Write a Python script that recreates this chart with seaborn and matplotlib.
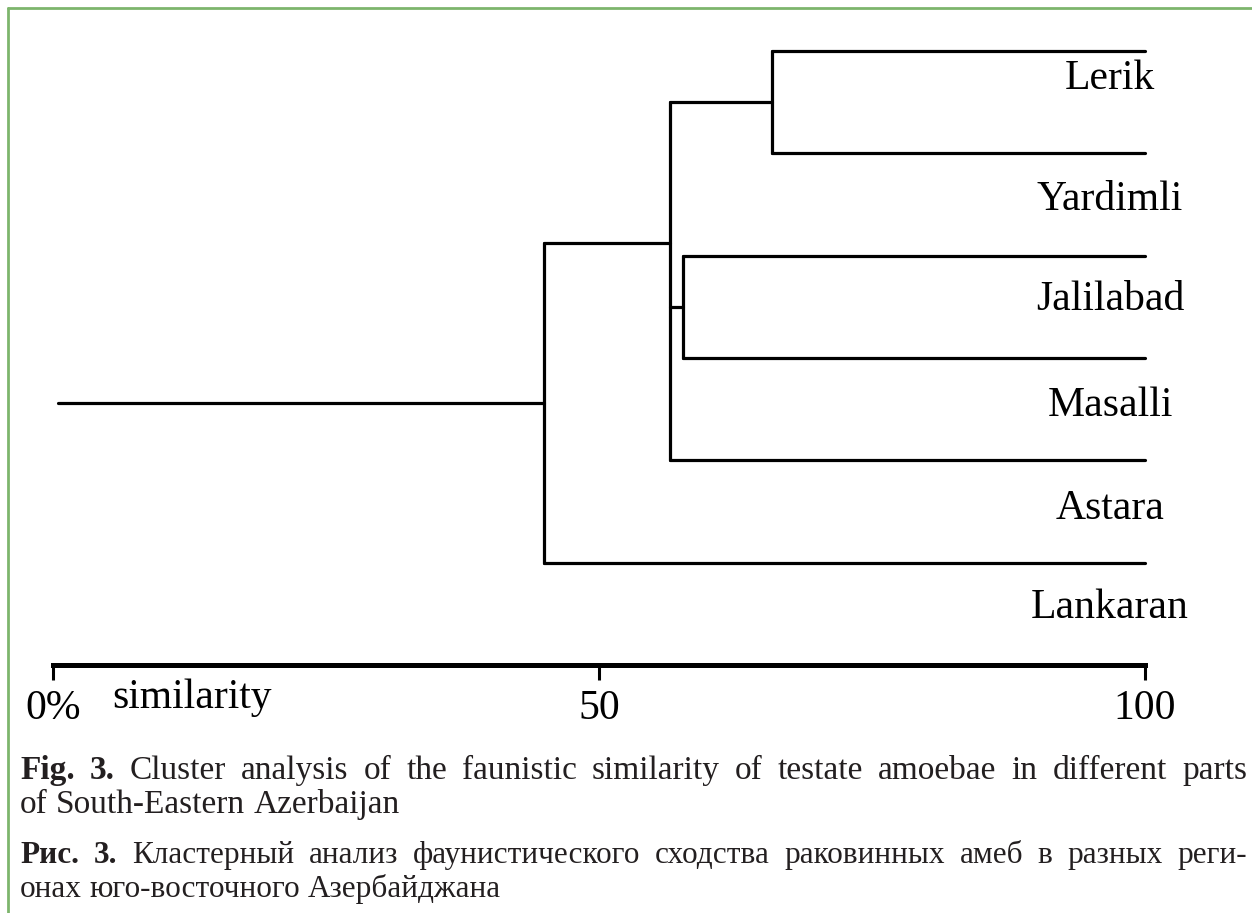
import numpy as np
import pandas as pd
import matplotlib
matplotlib.use("Agg")
import matplotlib.pyplot as plt
from matplotlib.lines import Line2D
import seaborn as sns

# leaves from top to bottom
leaves = ["Lerik", "Yardimli", "Jalilabad", "Masalli", "Astara", "Lankaran"]

# merges, similarity in %
node_names = ["A", "B", "C", "D"]
node_children = [["Lerik", "Yardimli"], ["Jalilabad", "Masalli"],
                 ["A", "B", "Astara"], ["C", "Lankaran"]]
node_similarity = [65.8, 57.7, 56.5, 45.0]
# the 3-way node is joined above its middle in the original figure
node_attach = {"C": 1.875}
root_start = 0.5
leaf_end = 100

tick_values = [0, 50, 100]
tick_labels = ["0%", "50", "100"]

caption_lines = [
    ([("Fig.", True), ("3.", True)] + [(w, False) for w in
     "Cluster analysis of the faunistic similarity of testate amoebae in different parts".split()], True),
    ([(w, False) for w in "of South-Eastern Azerbaijan".split()], False),
    ([("Рис.", True), ("3.", True)] + [(w, False) for w in
     "Кластерный анализ фаунистического сходства раковинных амеб в разных реги-".split()], True),
    ([(w, False) for w in "онах юго-восточного Азербайджана".split()], False),
]

# ---- build dendrogram segments
pos = {name: float(i) for i, name in enumerate(leaves)}
sim = {name: leaf_end for name in leaves}
rows = []
seg_id = [0]


def add_seg(xs, ys):
    for x, y in zip(xs, ys):
        rows.append({"seg": seg_id[0], "similarity": x, "row": y})
    seg_id[0] += 1


for name, kids, s in zip(node_names, node_children, node_similarity):
    ys = [pos[k] for k in kids]
    for k in kids:
        add_seg([sim[k], s], [pos[k], pos[k]])
    add_seg([s, s], [min(ys), max(ys)])
    pos[name] = node_attach.get(name, float(np.mean(ys)))
    sim[name] = s
add_seg([node_similarity[-1], root_start], [pos["D"], pos["D"]])

seg_df = pd.DataFrame(rows)

# ---- figure
W, H = 1252, 913
sns.set_theme(style="white")
plt.rcParams["font.family"] = ["Liberation Serif", "DejaVu Serif"]

fig = plt.figure(figsize=(W / 100, H / 100), dpi=100)
ax = fig.add_axes([53 / W, 1 - 665 / H, 1092 / W, 665 / H])

sns.lineplot(data=seg_df, x="similarity", y="row", units="seg", estimator=None,
             sort=False, color="black", lw=2.3, solid_capstyle="round",
             ax=ax, clip_on=False)

ax.set_xlim(0, 100)
ax.set_ylim(6, -0.5)
ax.set_xlabel("")
ax.set_ylabel("")
ax.set_yticks([])
ax.set_xticks(tick_values, tick_labels)
sns.despine(ax=ax, left=True, top=True, right=True)
ax.spines["bottom"].set_linewidth(3.6)
ax.spines["bottom"].set_color("black")
ax.tick_params(axis="x", direction="out", length=10.5, width=2.2, pad=7,
               labelsize=30, colors="black", bottom=True)
ax.patch.set_alpha(0)

ax.text(5.4, 6.42, "similarity", fontsize=30, color="black",
        va="baseline", ha="left", clip_on=False)

label_offset = [0.37, 0.55, 0.53, 0.57, 0.57, 0.54]
for i, name in enumerate(leaves):
    ax.text(96.8, i + label_offset[i], name, fontsize=30, color="black",
            ha="center", va="baseline")

# green frame (top and left edges of the box)
green = "#7db56c"
fig.add_artist(Line2D([8 / W, 1], [1 - 8 / H, 1 - 8 / H], color=green, lw=2))
fig.add_artist(Line2D([8 / W, 8 / W], [0, 1 - 8 / H], color=green, lw=2))

# ---- caption, justified like the journal text
cap_sizes = [24, 24, 22.5, 22.5]   # Cyrillic set a little tighter
cap_color = "#231f20"
left_px, right_px = 20, 1247
baselines = [779, 813, 863, 897]
renderer = fig.canvas.get_renderer()

for (words, justify), base, size in zip(caption_lines, baselines, cap_sizes):
    t1 = fig.text(0, 0, "x x", fontsize=size)
    t2 = fig.text(0, 0, "xx", fontsize=size)
    space_px = t1.get_window_extent(renderer).width - t2.get_window_extent(renderer).width
    t1.remove()
    t2.remove()
    texts = [fig.text(0, 1 - base / H, w, fontsize=size, color=cap_color,
                      fontweight="bold" if b else "normal", va="baseline")
             for w, b in words]
    widths = [t.get_window_extent(renderer).width for t in texts]
    gap = (right_px - left_px - sum(widths)) / (len(texts) - 1) if justify else space_px
    x = left_px
    for t, w in zip(texts, widths):
        t.set_x(x / W)
        x += w + gap

fig.savefig("out.png", dpi=100)
